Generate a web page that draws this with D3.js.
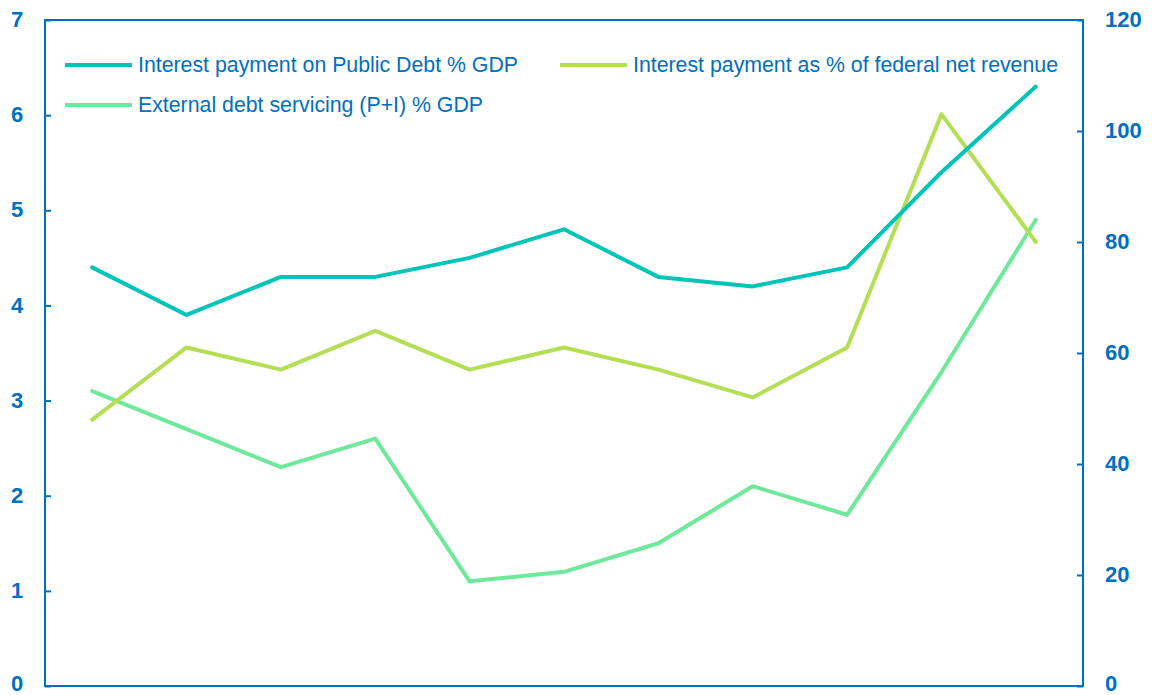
<!DOCTYPE html>
<html>
<head>
<meta charset="utf-8">
<script src="https://cdn.jsdelivr.net/npm/d3@7"></script>
<style>
body { margin: 0; background: #fff; }
svg { display: block; }
text { font-family: "Liberation Sans", Arial, sans-serif; }
</style>
</head>
<body>
<svg id="chart" width="1152" height="695"></svg>
<script>
const categories = ["1","2","3","4","5","6","7","8","9","10","11"];
const interestGDP = [4.4, 3.9, 4.3, 4.3, 4.5, 4.8, 4.3, 4.2, 4.4, 5.4, 6.3];
const interestRevenue = [48, 61, 57, 64, 57, 61, 57, 52, 61, 103, 80];
const externalDebt = [3.1, 2.7, 2.3, 2.6, 1.1, 1.2, 1.5, 2.1, 1.8, 3.3, 4.9];
const leftTicks = [0, 1, 2, 3, 4, 5, 6, 7];
const rightTicks = [0, 20, 40, 60, 80, 100, 120];

const seriesNames = [
  "Interest payment on Public Debt % GDP",
  "Interest payment as % of federal net revenue",
  "External debt servicing (P+I) % GDP"
];

const axisColor = "#0070C0";
const colors = ["#00C4B8", "#B4DF55", "#6EE89A"];

const m = {left: 45, right: 1083, top: 20, bottom: 686};
const svg = d3.select("#chart");

const x = d3.scaleBand().domain(categories).range([m.left, m.right]);
const yL = d3.scaleLinear().domain([0, 7]).range([m.bottom, m.top]);
const yR = d3.scaleLinear().domain([0, 120]).range([m.bottom, m.top]);

// frame
svg.append("rect")
  .attr("x", m.left).attr("y", m.top)
  .attr("width", m.right - m.left).attr("height", m.bottom - m.top)
  .attr("fill", "none").attr("stroke", axisColor).attr("stroke-width", 2);

// left axis
const gL = svg.append("g").attr("transform", `translate(${m.left},0)`)
  .call(d3.axisLeft(yL).tickValues(leftTicks).tickSize(-6).tickPadding(22).tickFormat(d3.format("d")));
gL.select(".domain").remove();
gL.selectAll(".tick line").attr("stroke", axisColor).attr("stroke-width", 2);
gL.selectAll(".tick text").attr("fill", axisColor).attr("font-size", 22).attr("font-weight", "bold")
  .attr("text-anchor", "middle").attr("x", -28).attr("dy", d => d === 0 ? "0.2em" : "0.3em");

// right axis
const gR = svg.append("g").attr("transform", `translate(${m.right},0)`)
  .call(d3.axisRight(yR).tickValues(rightTicks).tickSize(-6).tickPadding(22).tickFormat(d3.format("d")));
gR.select(".domain").remove();
gR.selectAll(".tick line").attr("stroke", axisColor).attr("stroke-width", 2);
gR.selectAll(".tick text").attr("fill", axisColor).attr("font-size", 22).attr("font-weight", "bold")
  .attr("x", 22).attr("dy", d => d === 0 ? "0.2em" : "0.3em");

const cx = d => x(d) + x.bandwidth() / 2;

function drawLine(vals, yScale, color) {
  const line = d3.line().x((d, i) => cx(categories[i])).y(d => yScale(d));
  svg.append("path").datum(vals)
    .attr("d", line).attr("fill", "none")
    .attr("stroke", color).attr("stroke-width", 4)
    .attr("stroke-linejoin", "round").attr("stroke-linecap", "round");
}
drawLine(externalDebt, yL, colors[2]);
drawLine(interestRevenue, yR, colors[1]);
drawLine(interestGDP, yL, colors[0]);

// legend
const legendPos = [
  {x: 65, y: 65},
  {x: 560, y: 65},
  {x: 65, y: 105}
];
seriesNames.forEach((name, i) => {
  const p = legendPos[i];
  svg.append("line").attr("x1", p.x).attr("x2", p.x + 67)
    .attr("y1", p.y).attr("y2", p.y)
    .attr("stroke", colors[i]).attr("stroke-width", 4);
  svg.append("text").attr("x", p.x + 73).attr("y", p.y).attr("dy", "0.35em")
    .attr("fill", axisColor).attr("font-size", 21.3).text(name);
});
</script>
</body>
</html>
